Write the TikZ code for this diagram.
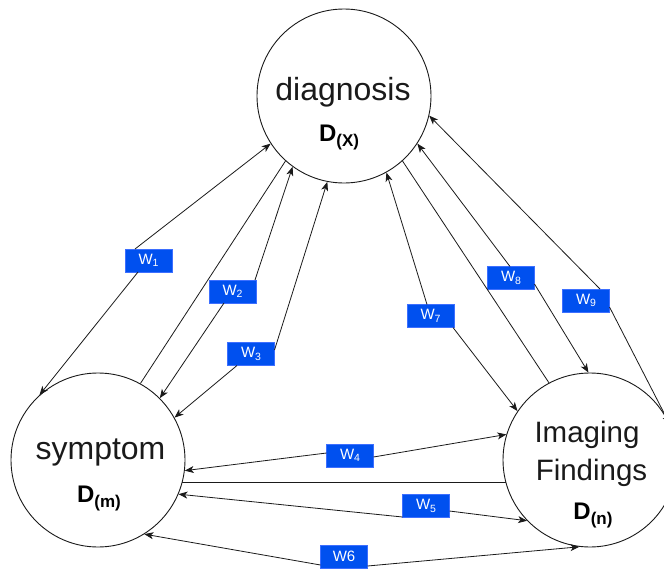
\documentclass[tikz,border=0pt]{standalone}
\usepackage{fontspec}
\setmainfont{Liberation Sans}
\usetikzlibrary{arrows.meta,calc}
\definecolor{wblue}{HTML}{0050EF}
\definecolor{wedge}{HTML}{3D6FFF}
\definecolor{ink}{HTML}{1A1A1A}
\newcommand{\wlab}[1]{W\raisebox{-2.5pt}{\fontsize{10.5}{10.5}\selectfont #1}}
\newcommand{\dlab}[1]{\fontsize{24}{24}\selectfont\bfseries D\raisebox{-5pt}{\fontsize{17}{17}\selectfont (#1)}}
\begin{document}
\begin{tikzpicture}[x=1pt,y=-1pt,
 bubble/.style={circle,draw=ink,line width=0.9pt,minimum size=174pt,inner sep=0pt},
 wbox/.style={rectangle,fill=wblue,draw=wedge,line width=0.6pt,minimum width=47pt,minimum height=23pt,inner sep=0pt,text=white,font=\fontsize{15}{15}\selectfont},
 conn/.style={draw=ink,line width=0.8pt},
 arr/.style={conn,-{Stealth[length=9pt,width=7pt,inset=2.5pt]}},
 big/.style={text=ink,font=\fontsize{32}{32}\selectfont,inner sep=0pt,anchor=base},
 mid/.style={text=ink,font=\fontsize{29.5}{29.5}\selectfont,inner sep=0pt,anchor=base},
 dl/.style={text=black,inner sep=0pt,anchor=base}]
\clip (0,0) rectangle (664,570);
\node[bubble] (diag) at (344,96) {};
\node[bubble] (sym) at (98,460) {};
\node[bubble] (img) at (590,460) {};
\node[big] (tdiag) at (343,100) {diagnosis};
\node[big] (tsym) at (100.5,459) {symptom};
\node[mid] (timg1) at (587,442) {Imaging};
\node[mid] (timg2) at (591.5,480) {Findings};
\node[dl] (ddiag) at (339,141.5) {\dlab{X}};
\node[dl] (dsym) at (99,502) {\dlab{m}};
\node[dl] (dimg) at (593,519) {\dlab{n}};
\node[wbox] (w1) at (148.5,260.5) {\wlab{1}};
\node[wbox] (w2) at (232.5,291.5) {\wlab{2}};
\node[wbox] (w3) at (251,354) {\wlab{3}};
\node[wbox] (w4) at (350,455.5) {\wlab{4}};
\node[wbox] (w5) at (426,506) {\wlab{5}};
\node[wbox] (w6) at (344,556.5) {W6};
\node[wbox] (w7) at (430.5,316) {\wlab{7}};
\node[wbox] (w8) at (511,278) {\wlab{8}};
\node[wbox] (w9) at (586,300.5) {\wlab{9}};
% W1
\draw[arr] ($(w1)+(-13.5,-11.5)$) -- (diag.213.5);
\draw[arr] ($(w1)+(-10.5,11.5)$) -- (sym.132.6);
% W2
\draw[arr] ($(w2)+(22.5,-11.5)$) -- (diag.234.9);
\draw[arr] ($(w2)+(-8.5,11.5)$) -- (sym.45);
% W3
\draw[arr] ($(w3)+(23.5,-4)$) -- (diag.259.5);
\draw[arr] ($(w3)+(-14,11.5)$) -- (sym.29.4);
% W4
\draw[arr] ($(w4)+(-23.5,-2.5)$) -- (sym.-7.2);
\draw[arr] ($(w4)+(23.5,1.5)$) -- (img.163.2);
% W5
\draw[arr] ($(w5)+(-23.5,11)$) -- (sym.-23);
\draw[arr] ($(w5)+(23.5,5)$) -- (img.224);
% W6
\draw[arr] ($(w6)+(-23.5,8.5)$) -- (sym.-58.6);
\draw[arr] ($(w6)+(23.5,9.5)$) -- (img.263);
% W7
\draw[arr] ($(w7)+(-3.5,-11.5)$) -- (diag.299.5);
\draw[arr] ($(w7)+(22.5,11.5)$) -- (img.146.5);
% W8
\draw[arr] ($(w8)+(-1,-11.5)$) -- (diag.327.7);
\draw[arr] ($(w8)+(23.5,6)$) -- (img.91.3);
% W9
\draw[arr] ($(w9)+(14,-11.5)$) -- (diag.347.5);
\draw[arr] ($(w9)+(23.5,6.5)$) -- (img.24.8);
% plain lines
\draw[conn] (sym.61.4) -- (diag.228.3);
\draw[conn] (diag.312.2) -- (img.118.9);
\draw[conn] (sym.-15) -- (img.195);
\end{tikzpicture}
\end{document}
